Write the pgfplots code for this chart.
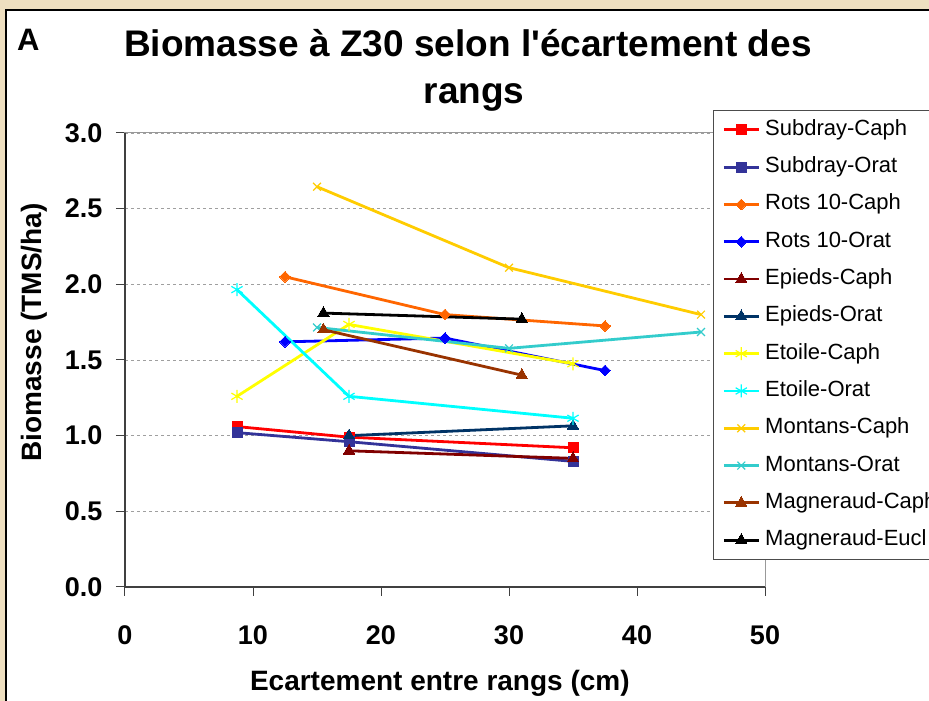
\documentclass[border=0pt]{standalone}
\usepackage{pgfplots}
\pgfplotsset{compat=1.18}
\usepackage{fontspec}
\setmainfont{Liberation Sans}[Ligatures=TeXOff]
\definecolor{bgbeige}{HTML}{EEDFC0}
\definecolor{cSubC}{HTML}{FF0000}
\definecolor{cSubO}{HTML}{333399}
\definecolor{cRotC}{HTML}{FF6600}
\definecolor{cRotO}{HTML}{0000FF}
\definecolor{cEpiC}{HTML}{800000}
\definecolor{cEpiO}{HTML}{003366}
\definecolor{cEtoC}{HTML}{FFFF00}
\definecolor{cEtoO}{HTML}{00FFFF}
\definecolor{cMonC}{HTML}{FFCC00}
\definecolor{cMonO}{HTML}{33CCCC}
\definecolor{cMagC}{HTML}{993300}
\definecolor{cMagE}{HTML}{000000}
\begin{document}
\begin{tikzpicture}[x=1pt,y=1pt]
\useasboundingbox (0,0) rectangle (929,701);
\fill[bgbeige] (0,0) rectangle (929,701);
\draw[black, line width=1.2pt, fill=white] (6,-10) rectangle (940,691);
\node[anchor=base west, font=\fontsize{31}{33}\selectfont\bfseries, inner sep=0pt] at (17,650) {A};
\node[anchor=base, font=\fontsize{37}{40}\selectfont\bfseries, inner sep=0pt] at (468,644) {Biomasse à Z30 selon l'écartement des};
\node[anchor=base, font=\fontsize{37}{40}\selectfont\bfseries, inner sep=0pt] at (474,597) {rangs};
\begin{axis}[
  at={(125pt,114pt)}, anchor=south west,
  scale only axis, width=640pt, height=454pt,
  xmin=0, xmax=50, ymin=0, ymax=3,
  xtick={0,10,20,30,40,50},
  ytick={0,0.5,1,1.5,2,2.5,3},
  tick pos=left,
  tick align=outside, major tick length=9pt,
  tick style={black!75, line width=1pt},
  axis line style={draw=gray!80, line width=1pt},
  ymajorgrids,
  grid style={dash pattern=on 3pt off 3pt, gray!75, line width=0.8pt},
  /pgf/number format/assume math mode=true,
  ticklabel style={font=\fontsize{27}{30}\selectfont\bfseries},
  xticklabel style={yshift=-26pt},
  yticklabel style={/pgf/number format/fixed, /pgf/number format/fixed zerofill, /pgf/number format/precision=1, xshift=-10pt},
  xlabel={Ecartement entre rangs (cm)},
  ylabel={Biomasse (TMS/ha)},
  xlabel style={at={(axis description cs:0.492,-0.229)}, anchor=base, font=\fontsize{28}{30}\selectfont\bfseries, inner sep=0pt},
  ylabel style={at={(axis description cs:-0.1297,0.5606)}, anchor=base, font=\fontsize{28}{30}\selectfont\bfseries, inner sep=0pt},
  clip=false,
  every axis plot/.append style={line width=2.8pt},
  legend cell align=left,
  legend image code/.code={\draw[mark repeat=2,mark phase=2,#1] plot coordinates {(0pt,0pt) (17.5pt,0pt) (35pt,0pt)};},
  legend style={at={(axis description cs:0.91875,1.0507)}, anchor=north west,
    draw=black!70, fill=white, line width=0.8pt,
    font=\fontsize{22}{24}\selectfont,
    inner xsep=9pt, inner ysep=9pt, row sep=16.3pt, column sep=5pt,
    nodes={inner sep=0pt, text height=16pt, text depth=5pt}},
]
\draw[gray!80, line width=1pt] (axis cs:50,0) -- (axis cs:50,3);
\addplot[color=cSubC, mark=square*, mark size=5pt, mark options={solid, line width=0pt}] coordinates {(8.75,1.06) (17.5,0.99) (35,0.92)};
\addlegendentry{Subdray-Caph}
\addplot[color=cSubO, mark=square*, mark size=5pt, mark options={solid, line width=0pt}] coordinates {(8.75,1.02) (17.5,0.96) (35,0.83)};
\addlegendentry{Subdray-Orat}
\addplot[color=cRotC, mark=square*, mark size=3.8pt, mark options={solid, rotate=45, line width=0pt}] coordinates {(12.5,2.05) (25,1.80) (37.5,1.725)};
\addlegendentry{Rots 10-Caph}
\addplot[color=cRotO, mark=square*, mark size=3.8pt, mark options={solid, rotate=45, line width=0pt}] coordinates {(12.5,1.62) (25,1.645) (37.5,1.43)};
\addlegendentry{Rots 10-Orat}
\addplot[color=cEpiC, mark=triangle*, mark size=6.5pt, mark options={solid, line width=0pt}] coordinates {(17.5,0.90) (35,0.85)};
\addlegendentry{Epieds-Caph}
\addplot[color=cEpiO, mark=triangle*, mark size=6.5pt, mark options={solid, line width=0pt}] coordinates {(17.5,1.00) (35,1.065)};
\addlegendentry{Epieds-Orat}
\addplot[color=cEtoC, mark=asterisk, mark size=6.5pt, mark options={solid, line width=1.2pt}] coordinates {(8.75,1.26) (17.5,1.735) (35,1.475)};
\addlegendentry{Etoile-Caph}
\addplot[color=cEtoO, mark=asterisk, mark size=6.5pt, mark options={solid, line width=1.2pt}] coordinates {(8.75,1.965) (17.5,1.26) (35,1.115)};
\addlegendentry{Etoile-Orat}
\addplot[color=cMonC, mark=x, mark size=5.5pt, mark options={solid, line width=1.2pt}] coordinates {(15,2.645) (30,2.11) (45,1.80)};
\addlegendentry{Montans-Caph}
\addplot[color=cMonO, mark=x, mark size=5.5pt, mark options={solid, line width=1.2pt}] coordinates {(15,1.715) (30,1.577) (45,1.685)};
\addlegendentry{Montans-Orat}
\addplot[color=cMagC, mark=triangle*, mark size=6.5pt, mark options={solid, line width=0pt}] coordinates {(15.5,1.70) (31,1.40)};
\addlegendentry{Magneraud-Caph}
\addplot[color=cMagE, mark=triangle*, mark size=6.5pt, mark options={solid, line width=0pt}] coordinates {(15.5,1.81) (31,1.77)};
\addlegendentry{Magneraud-Eucl}
\draw[black!75, line width=1.3pt] (rel axis cs:0,1) -- (rel axis cs:0,0) -- (rel axis cs:1,0);
\end{axis}
\end{tikzpicture}
\end{document}
